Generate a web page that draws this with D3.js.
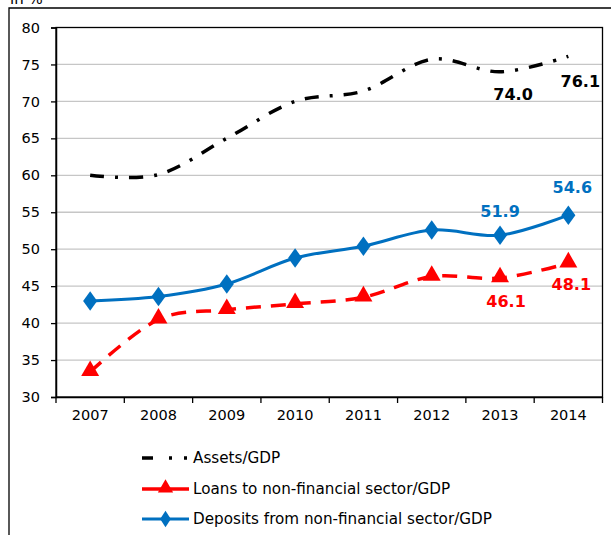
<!DOCTYPE html>
<html><head><meta charset="utf-8">
<script src="https://cdn.jsdelivr.net/npm/d3@7"></script>
<style>
html,body{margin:0;padding:0;background:#fff;}
svg{display:block;font-family:"DejaVu Sans",Verdana,sans-serif;}
</style></head>
<body><svg id="c" width="611" height="535"></svg>
<script>
const years = ["2007","2008","2009","2010","2011","2012","2013","2014"];
const assets = [60.0, 60.1, 65.0, 70.0, 71.4, 75.7, 74.0, 76.1];
const loans = [33.4, 40.5, 41.8, 42.6, 43.5, 46.3, 46.1, 48.1];
const deposits = [43.0, 43.6, 45.3, 48.8, 50.4, 52.6, 51.9, 54.6];
const yTicks = [30, 35, 40, 45, 50, 55, 60, 65, 70, 75, 80];
const seriesNames = ["Assets/GDP", "Loans to non-financial sector/GDP", "Deposits from non-financial sector/GDP"];
const unitLabel = "in %";

const svg = d3.select("#c");
const L = 56, R = 602.5, T = 27.5, B = 397;
const x = d3.scaleBand().domain(years).range([L, R]);
const y = d3.scaleLinear().domain([30, 80]).range([B, T]);
const cx = d => x(d) + x.bandwidth() / 2;

// outer frame
svg.append("path").attr("d", `M9,535V8H611`).attr("fill","none").attr("stroke","#000").attr("stroke-width",1.3);
svg.append("text").attr("x",10).attr("y",4).attr("font-size",15).text(unitLabel);

// gridlines
svg.append("g").selectAll("line").data(yTicks.filter(v => v > 30 && v < 80)).join("line")
  .attr("x1", L).attr("x2", R).attr("y1", d => y(d)).attr("y2", d => y(d))
  .attr("stroke", "#c6c6c6").attr("stroke-width", 1.3);

// plot frame
svg.append("rect").attr("x", L).attr("y", T).attr("width", R - L).attr("height", B - T)
  .attr("fill","none").attr("stroke","#000").attr("stroke-width",1.3);

// y axis
const ya = svg.append("g").attr("transform", `translate(${L},0)`)
  .call(d3.axisLeft(y).tickValues(yTicks).tickSize(5).tickPadding(11));
ya.select(".domain").attr("stroke-width",1.5);
ya.selectAll("line").attr("stroke-width",1.3);
ya.selectAll("text").attr("font-size",14.5).attr("font-family","DejaVu Sans").attr("fill","#000");

// x axis
const xa = svg.append("g").attr("transform", `translate(0,${B})`)
  .call(d3.axisBottom(x).tickSize(0).tickPadding(13));
xa.select(".domain").attr("stroke-width",1.5);
xa.selectAll("text").attr("font-size",14.5).attr("font-family","DejaVu Sans").attr("fill","#000");
const bounds = years.map(d => x(d)).concat([R]);
xa.selectAll("line.b").data(bounds).join("line").attr("class","b")
  .attr("x1", d => d).attr("x2", d => d).attr("y1", 0).attr("y2", 6)
  .attr("stroke","#000").attr("stroke-width",1.3);

const curve = d3.curveCardinal.tension(0);
const line = d3.line().x((d, i) => cx(years[i])).y(d => y(d)).curve(curve);

const RED = "#ff0000", BLUE = "#0070c0";

// Assets
svg.append("path").attr("d", line(assets)).attr("fill","none").attr("stroke","#000")
  .attr("stroke-width",3.5).attr("stroke-dasharray","14,11,3,11");
// Loans
svg.append("path").attr("d", line(loans)).attr("fill","none").attr("stroke",RED)
  .attr("stroke-width",3.5).attr("stroke-dasharray","15,10");
// Deposits
svg.append("path").attr("d", line(deposits)).attr("fill","none").attr("stroke",BLUE)
  .attr("stroke-width",3);

const tri = d3.symbol().type(d3.symbolTriangle).size(140);
const dia = d3.symbol().type(d3.symbolDiamond).size(110);
svg.append("g").selectAll("path").data(loans).join("path")
  .attr("d", tri).attr("fill", RED)
  .attr("transform", (d, i) => `translate(${cx(years[i])},${y(d) - 1})`);
svg.append("g").selectAll("path").data(deposits).join("path")
  .attr("d", dia).attr("fill", BLUE)
  .attr("transform", (d, i) => `translate(${cx(years[i])},${y(d)}) scale(1.25,1)`);

// data labels
const labelSpecs = [
  {s: assets, i: 6, c: "#000", dx: 13, dy: 28},
  {s: assets, i: 7, c: "#000", dx: 12, dy: 31},
  {s: deposits, i: 6, c: BLUE, dx: 0, dy: -18},
  {s: deposits, i: 7, c: BLUE, dx: 4, dy: -22},
  {s: loans, i: 6, c: RED, dx: 6, dy: 29},
  {s: loans, i: 7, c: RED, dx: 3, dy: 27}
];
svg.append("g").selectAll("text").data(labelSpecs).join("text")
  .attr("x", d => cx(years[d.i]) + d.dx).attr("y", d => y(d.s[d.i]) + d.dy)
  .attr("text-anchor","middle").attr("font-weight","bold").attr("font-size",16)
  .attr("fill", d => d.c).text(d => d.s[d.i].toFixed(1));

// legend
const lg = svg.append("g");
const ly = [458, 489, 519];
const lx1 = 142, lx2 = 189;
lg.append("path").attr("d", `M${lx1},${ly[0]}H${lx2}`).attr("stroke","#000").attr("stroke-width",3.5)
  .attr("stroke-dasharray","11,16,3,12,3,20");
lg.append("path").attr("d", `M${lx1},${ly[1]}H${lx2}`).attr("stroke",RED).attr("stroke-width",3.5);
lg.append("path").attr("d", tri).attr("fill",RED).attr("transform",`translate(${(lx1+lx2)/2},${ly[1]-1}) scale(0.85)`);
lg.append("path").attr("d", `M${lx1},${ly[2]}H${lx2}`).attr("stroke",BLUE).attr("stroke-width",3);
lg.append("path").attr("d", dia).attr("fill",BLUE).attr("transform",`translate(${(lx1+lx2)/2},${ly[2]}) scale(0.95,0.85)`);
lg.selectAll("text").data(seriesNames).join("text")
  .attr("x", 193).attr("y", (d, i) => ly[i]).attr("dy","0.35em")
  .attr("font-size",15.2).attr("fill","#000").text(d => d);
</script></body></html>
